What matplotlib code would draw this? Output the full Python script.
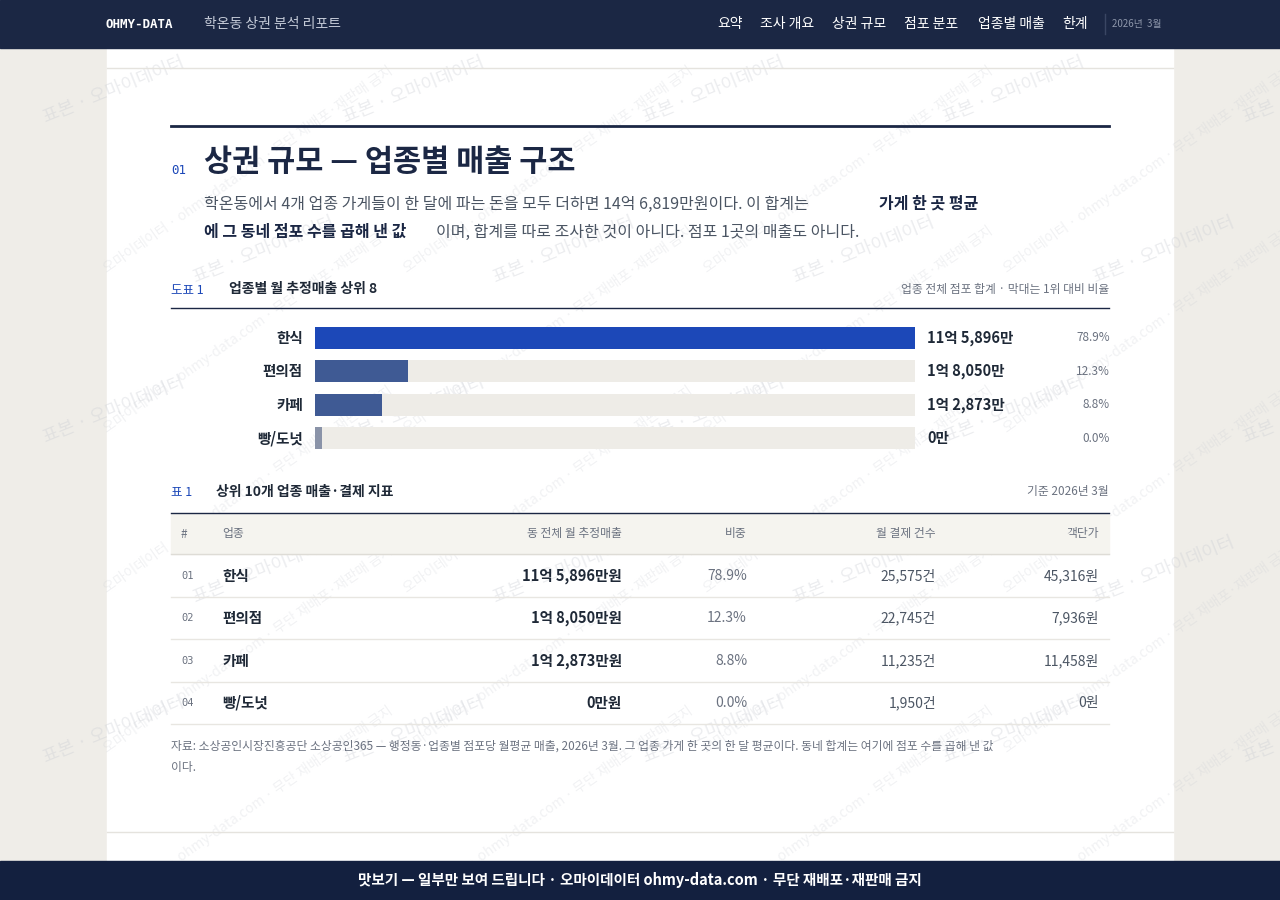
import matplotlib.pyplot as plt
import matplotlib.patches as mpatches

plt.rcParams['font.family'] = ['Noto Sans CJK KR', 'DejaVu Sans']

NAVY = "#1b2744"
BLUE = "#1c48b8"
GREY = "#6b7280"
TEXT = "#1f2937"

# ── Data ──────────────────────────────────────────────────────────────────────
categories = ["한식", "편의점", "카페", "빵/도넛"]
sales_man = [115896, 18050, 12873, 0]          # 만원
sales_labels = ["11억 5,896만", "1억 8,050만", "1억 2,873만", "0만"]
share_pct = [78.9, 12.3, 8.8, 0.0]
tx_counts = ["25,575건", "22,745건", "11,235건", "1,950건"]
unit_price = ["45,316원", "7,936원", "11,458원", "0원"]
bar_colors = [BLUE, "#3f5a94", "#3f5a94", "#8a93a8"]

fig = plt.figure(figsize=(12.8, 9), dpi=100)
fig.patch.set_facecolor("#efede8")
ax = fig.add_axes([0, 0, 1, 1])
ax.set_xlim(0, 1280)
ax.set_ylim(900, 0)
ax.axis("off")

# page card
ax.add_patch(mpatches.Rectangle((107, 48), 1066, 812, color="white", zorder=0))
ax.plot([107, 1173], [68, 68], color="#e5e3de", lw=1)
ax.plot([107, 1173], [832, 832], color="#e5e3de", lw=1)

# watermarks
for yy in range(90, 880, 160):
    for xx in range(40, 1280, 300):
        ax.text(xx + (yy // 160) % 2 * 150, yy, "표본 · 오마이데이터", rotation=22, fontsize=13,
                color="#c8cbd2", alpha=0.35, ha="left", va="center", zorder=0.5)
        ax.text(xx + 60, yy + 80, "오마이데이터 · ohmy-data.com · 무단 재배포·재판매 금지", rotation=35,
                fontsize=10, color="#c8cbd2", alpha=0.25, ha="left", va="center", zorder=0.5)

# header bar
ax.add_patch(mpatches.Rectangle((0, 0), 1280, 48, color=NAVY, zorder=2))
ax.text(106, 24, "OHMY-DATA", color="white", fontsize=9, fontweight="bold",
        family="DejaVu Sans Mono", va="center", zorder=3)
ax.text(204, 24, "학온동 상권 분석 리포트", color="#c5cbd8", fontsize=10, va="center", zorder=3)
nav = [("요약", 717), ("조사 개요", 760), ("상권 규모", 832), ("점포 분포", 904),
       ("업종별 매출", 978), ("한계", 1062)]
for label, x in nav:
    ax.text(x, 24, label, color="white", fontsize=10, va="center", zorder=3)
ax.plot([1105, 1105], [14, 34], color="#3a4663", lw=1, zorder=3)
ax.text(1112, 24, "2026년  3월", color="#8e97ab", fontsize=7, va="center", zorder=3)

# footer
ax.add_patch(mpatches.Rectangle((0, 861), 1280, 39, color="#13203f", zorder=2))
ax.text(640, 880, "맛보기 — 일부만 보여 드립니다 · 오마이데이터 ohmy-data.com · 무단 재배포·재판매 금지",
        color="white", fontsize=10.5, fontweight="bold", ha="center", va="center", zorder=3)

# section title
ax.plot([171, 1109], [126, 126], color=NAVY, lw=2)
ax.text(171, 170, "01", color=BLUE, fontsize=9, family="DejaVu Sans Mono", va="center")
ax.text(204, 162, "상권 규모 — 업종별 매출 구조", color=NAVY, fontsize=22, fontweight="bold", va="center")
ax.text(204, 204, "학온동에서 4개 업종 가게들이 한 달에 파는 돈을 모두 더하면 14억 6,819만원이다. 이 합계는 ",
        color="#4b5563", fontsize=11.5, va="center")
ax.text(879, 204, "가게 한 곳 평균", color=NAVY, fontsize=11.5, fontweight="bold", va="center")
ax.text(204, 232, "에 그 동네 점포 수를 곱해 낸 값", color=NAVY, fontsize=11.5, fontweight="bold", va="center")
ax.text(436, 232, "이며, 합계를 따로 조사한 것이 아니다. 점포 1곳의 매출도 아니다.",
        color="#4b5563", fontsize=11.5, va="center")

# figure 1 header
ax.text(171, 290, "도표 1", color=BLUE, fontsize=9, va="center")
ax.text(229, 289, "업종별 월 추정매출 상위 8", color=TEXT, fontsize=10, fontweight="bold", va="center")
ax.text(1109, 289, "업종 전체 점포 합계 · 막대는 1위 대비 비율", color=GREY, fontsize=8.5, ha="right", va="center")
ax.plot([171, 1109], [308, 308], color=NAVY, lw=1)

# bar chart axes: track 315..915 px
bax = fig.add_axes([315 / 1280, 1 - 455 / 900, 600 / 1280, 134 / 900])
n = len(categories)
vmax = max(sales_man)
bax.barh(range(n), [vmax] * n, height=0.66, color="#eeece7")
bax.barh(range(n), [max(v, vmax * 0.012) for v in sales_man], height=0.66, color=bar_colors)
bax.set_xlim(0, vmax)
bax.set_ylim(n - 0.5, -0.5)
bax.axis("off")
for i in range(n):
    bax.text(-0.02 * vmax, i, categories[i], ha="right", va="center", fontsize=10.5,
             fontweight="bold", color=TEXT)
    bax.text(1.02 * vmax, i, sales_labels[i], ha="left", va="center", fontsize=10.5,
             fontweight="bold", color=TEXT)
    bax.text(1.325 * vmax, i, f"{share_pct[i]:.1f}%", ha="right", va="center",
             fontsize=8.5, color=GREY)

# table header
ax.text(171, 493, "표 1", color=BLUE, fontsize=9, va="center")
ax.text(216, 492, "상위 10개 업종 매출·결제 지표", color=TEXT, fontsize=10, fontweight="bold", va="center")
ax.text(1109, 492, "기준 2026년 3월", color=GREY, fontsize=8.5, ha="right", va="center")
ax.plot([171, 1109], [513, 513], color=NAVY, lw=1)
ax.add_patch(mpatches.Rectangle((171, 514), 938, 40, color="#f5f4ef", zorder=1))
ax.plot([171, 1109], [554, 554], color="#dedcd6", lw=1)
hy = 534
ax.text(181, hy, "#", color=GREY, fontsize=8.5, va="center", zorder=2)
ax.text(222, hy, "업종", color=GREY, fontsize=8.5, va="center", zorder=2)
ax.text(622, hy, "동 전체 월 추정매출", color=GREY, fontsize=8.5, ha="right", va="center", zorder=2)
ax.text(747, hy, "비중", color=GREY, fontsize=8.5, ha="right", va="center", zorder=2)
ax.text(936, hy, "월 결제 건수", color=GREY, fontsize=8.5, ha="right", va="center", zorder=2)
ax.text(1099, hy, "객단가", color=GREY, fontsize=8.5, ha="right", va="center", zorder=2)
for i in range(n):
    y = 576 + i * 42.3
    ax.text(181, y, f"{i + 1:02d}", color=GREY, fontsize=7.5, family="DejaVu Sans Mono", va="center")
    ax.text(222, y, categories[i], color=TEXT, fontsize=10.5, fontweight="bold", va="center")
    ax.text(622, y, sales_labels[i] + "원", color=TEXT, fontsize=10.5, fontweight="bold",
            ha="right", va="center")
    ax.text(747, y, f"{share_pct[i]:.1f}%", color=GREY, fontsize=10, ha="right", va="center")
    ax.text(936, y, tx_counts[i], color="#4b5563", fontsize=10, ha="right", va="center")
    ax.text(1099, y, unit_price[i], color="#4b5563", fontsize=10, ha="right", va="center")
    ax.plot([171, 1109], [y + 21, y + 21], color="#e8e6e1", lw=1)

ax.text(171, 746, "자료: 소상공인시장진흥공단 소상공인365 — 행정동·업종별 점포당 월평균 매출, 2026년 3월. "
        "그 업종 가게 한 곳의 한 달 평균이다. 동네 합계는 여기에 점포 수를 곱해 낸 값",
        color=GREY, fontsize=8.5, va="center")
ax.text(171, 767, "이다.", color=GREY, fontsize=8.5, va="center")

fig.savefig("out.png", dpi=100)
